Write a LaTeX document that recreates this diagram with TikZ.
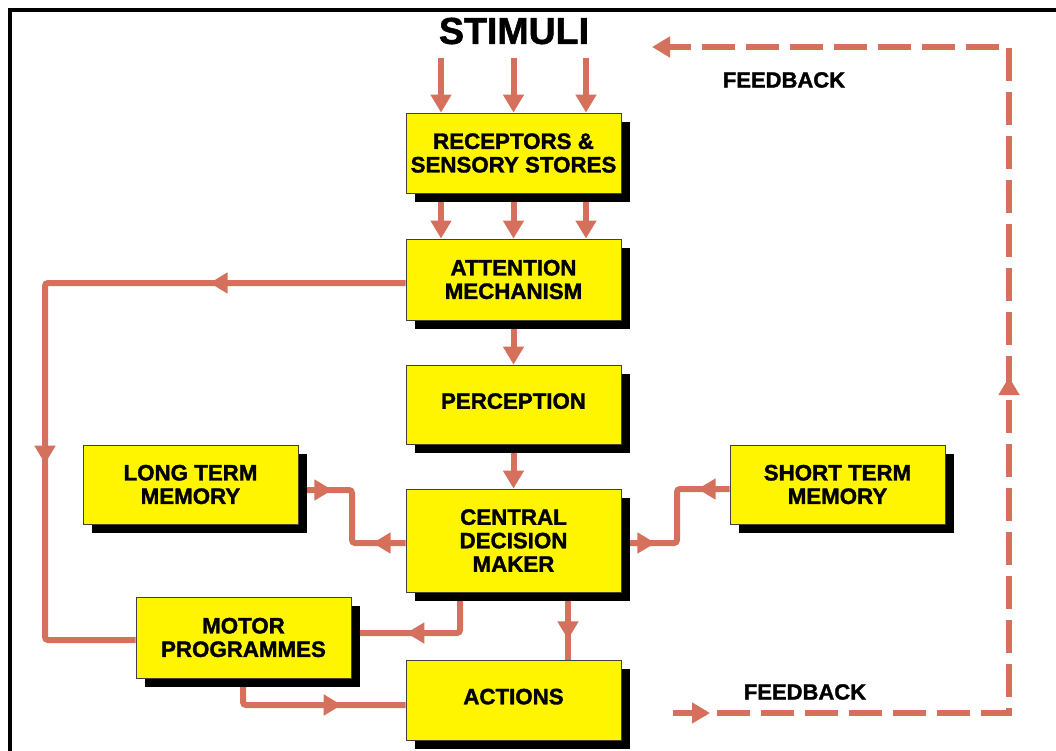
\documentclass[tikz,border=0pt]{standalone}
\usepackage{fontspec}
\setmainfont{Liberation Sans}[BoldFeatures={FakeBold=1.5}]
\usetikzlibrary{arrows.meta,decorations.markings,shadows,calc,backgrounds}
\definecolor{fl}{RGB}{212,112,92}
\definecolor{by}{RGB}{255,245,0}
\begin{document}
\begin{tikzpicture}[x=1pt,y=-1pt,
  box/.style={draw=black!75, line width=0.8pt, fill=by, minimum width=215pt, minimum height=80pt,
    align=center, inner sep=0pt, font=\bfseries\fontsize{22.3}{23.5}\selectfont,
    general shadow={shadow xshift=9pt,shadow yshift=-9pt,fill=black}},
  flow/.style={draw=fl, line width=6pt, rounded corners=3pt},
  tip/.style={-{Triangle[width=20pt,length=18pt]}},
  mk/.style={postaction={decorate,decoration={markings,mark=at position #1 with {\arrow{Triangle[width=20pt,length=18pt]}}}}},
  lbl/.style={font=\bfseries\fontsize{22}{24}\selectfont, inner sep=0pt}]
\useasboundingbox (0,0) rectangle (1056,751);
\draw[line width=4pt, line join=miter] (10,760) -- (10,10.5) -- (1060,10.5);

\node[box, minimum height=80pt] (rec) at (513.5,153) {RECEPTORS \&\\SENSORY STORES};
\node[box, minimum height=81pt] (att) at (513.5,279.5) {ATTENTION\\MECHANISM};
\node[box, minimum height=79pt, text depth=7pt] (per) at (513.5,404.5) {PERCEPTION};
\node[box, minimum height=103pt] (cdm) at (513.5,540.5) {CENTRAL\\DECISION\\MAKER};
\node[box, minimum height=80pt, text depth=7pt] (act) at (513.5,700) {ACTIONS};
\node[box, minimum height=79pt] (ltm) at (190.5,484.5) {LONG TERM\\MEMORY};
\node[box, minimum height=79pt] (stm) at (837.5,484.5) {SHORT TERM\\MEMORY};
\node[box, minimum height=81pt] (mot) at (243.5,637.5) {MOTOR\\PROGRAMMES};

\node[font=\bfseries\fontsize{37.5}{40}\selectfont, inner sep=0pt] (stim) at (514,31) {STIMULI};
\node[lbl] (fbt) at (784,80) {FEEDBACK};
\node[lbl] (fbb) at (805,692) {FEEDBACK};

\begin{scope}[on background layer]
  % stimuli
  \foreach \dx/\n in {-72.5/1, 0/2, 72.5/3} {
    \coordinate (s\n) at ($(rec.north)+(\dx,-55)$);
    \draw[flow,tip] (s\n) -- (s\n |- rec.north);
    \draw[flow,tip] ([xshift=\dx pt]rec.south) -- ([xshift=\dx pt]att.north);
  }
  \draw[flow,tip] (att.south) -- (per.north);
  \draw[flow,tip] (per.south) -- (cdm.north);
  % attention loop to motor programmes
  \coordinate (l1) at (45,283);
  \coordinate (l2) at (45,640);
  \draw[flow, mk=196pt, mk=540pt] ([yshift=-3.5pt]att.west) -- (l1) -- (l2) -- (l2 -| mot.west);
  % long term memory
  \coordinate (lj) at (352,516);
  \draw[flow, mk=34pt] ([yshift=-5.5pt]ltm.east) -| (lj);
  \draw[flow, mk=33pt] ([yshift=-2.5pt]cdm.west) -| (lj);
  % short term memory
  \coordinate (sj) at (677,516);
  \draw[flow, mk=32pt] ([yshift=-4.5pt]stm.west) -| (sj);
  \draw[flow, mk=34pt] ([yshift=-2.5pt]cdm.east) -| (sj);
  % central -> motor
  \coordinate (m1) at (460,633);
  \draw[flow, mk=93pt] (cdm.south -| m1) -- (m1) -- (m1 -| mot.east);
  % central -> actions
  \draw[flow, mk=47pt] ([xshift=54.5pt]cdm.south) -- ([xshift=54.5pt]act.north);
  % motor -> actions
  \coordinate (m2) at (243,705);
  \draw[flow, mk=124pt] (mot.south -| m2) -- (m2) -- (m2 -| act.west);
\end{scope}

% feedback
\coordinate (f0) at (673,713);
\coordinate (f1) at (1009,713);
\coordinate (f2) at (1009,47);
\coordinate (f3) at (652,47);
\draw[flow, rounded corners=0pt, dash pattern=on 33pt off 11pt, tip, mk=37pt, mk=672pt] (f0) -- (f1) -- (f2) -- (f3);
\end{tikzpicture}
\end{document}
